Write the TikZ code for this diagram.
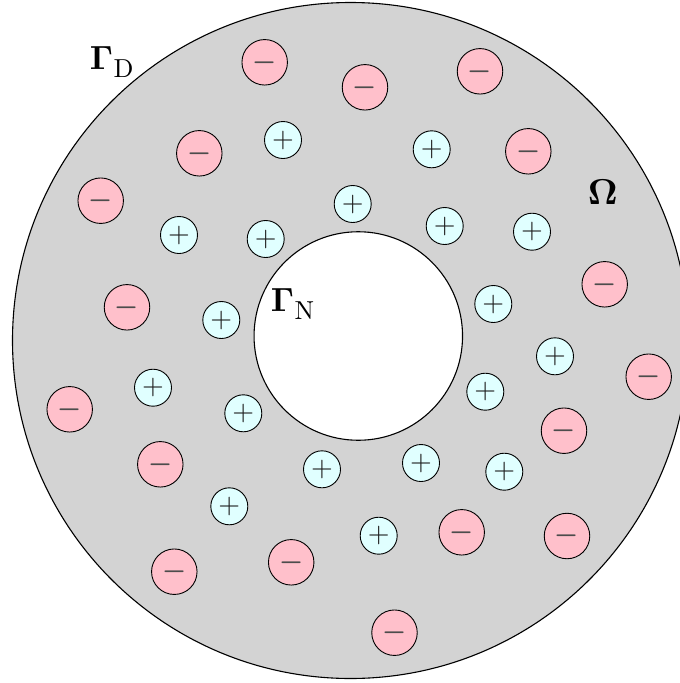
\documentclass[tikz,border=0pt]{standalone}
\usepackage{amsmath}
\usepackage{graphicx}
\definecolor{bgfill}{HTML}{D3D3D3}
\definecolor{negfill}{HTML}{FFC0CB}
\definecolor{posfill}{HTML}{E0FFFF}
\newcommand{\negsign}{\scalebox{3.1}[4.3]{$-$}}
\newcommand{\possign}{\scalebox{2.8}{$+$}}
\newcommand{\bigGamma}{\scalebox{3.35}{$\mathbf{\Gamma}$}}
\begin{document}
\begin{tikzpicture}[x=1pt,y=-1pt,
  anion/.style={circle, draw=black, fill=negfill, minimum size=45.5pt, inner sep=0pt, line width=0.9pt, text=black!70},
  cation/.style={circle, draw=black, fill=posfill, minimum size=37pt, inner sep=0pt, line width=0.9pt, text=black!88},
  region/.style={circle, draw=black, inner sep=0pt, line width=1.1pt},
  lbl/.style={inner sep=0pt, anchor=base west}]
\useasboundingbox (0,0) rectangle (680,683);
\clip (0,0) rectangle (680,683);
\fill[white] (0,0) rectangle (680,683);
\node[region, fill=bgfill, minimum size=676pt] (outer) at (350.5,340.5) {};
\node[region, fill=white, minimum size=208.5pt] (inner) at (358.3,336) {};
% negative ions
\node[anion] (n1) at (264.7,62.3) {\negsign};
\node[anion] (n2) at (365,87.3) {\negsign};
\node[anion] (n3) at (480,71.3) {\negsign};
\node[anion] (n4) at (199.3,153.3) {\negsign};
\node[anion] (n5) at (528.3,151.3) {\negsign};
\node[anion] (n6) at (100.7,200.7) {\negsign};
\node[anion] (n7) at (604.7,284.3) {\negsign};
\node[anion] (n8) at (127,307.3) {\negsign};
\node[anion] (n9) at (648.7,376.7) {\negsign};
\node[anion] (n10) at (69.7,409.3) {\negsign};
\node[anion] (n11) at (564,430.7) {\negsign};
\node[anion] (n12) at (160.3,464.3) {\negsign};
\node[anion] (n13) at (461.7,532.3) {\negsign};
\node[anion] (n14) at (567,536) {\negsign};
\node[anion] (n15) at (291.2,562.3) {\negsign};
\node[anion] (n16) at (174.3,571.7) {\negsign};
\node[anion] (n17) at (394.5,632.7) {\negsign};
% positive ions
\node[cation] (p1) at (283,140) {\possign};
\node[cation] (p2) at (431.7,149.3) {\possign};
\node[cation] (p3) at (352.7,204) {\possign};
\node[cation] (p4) at (444.7,226) {\possign};
\node[cation] (p5) at (532,231.7) {\possign};
\node[cation] (p6) at (179,235) {\possign};
\node[cation] (p7) at (265.7,239) {\possign};
\node[cation] (p8) at (493.3,304) {\possign};
\node[cation] (p9) at (221.3,320) {\possign};
\node[cation] (p10) at (555,356.3) {\possign};
\node[cation] (p11) at (153,387.7) {\possign};
\node[cation] (p12) at (485.3,391.7) {\possign};
\node[cation] (p13) at (243.3,413.3) {\possign};
\node[cation] (p14) at (421,463) {\possign};
\node[cation] (p15) at (322,469.3) {\possign};
\node[cation] (p16) at (504.3,471.7) {\possign};
\node[cation] (p17) at (229.3,506.3) {\possign};
\node[cation] (p18) at (378.7,535.7) {\possign};
% labels
\node[lbl] (gd) at (89.7,69) {\bigGamma\hspace{0.5pt}\raisebox{-8pt}{\scalebox{2.6}{D}}};
\node[lbl] (gn) at (270.7,311) {\bigGamma\hspace{0.5pt}\raisebox{-8pt}{\scalebox{2.6}{N}}};
\node[inner sep=0pt] (om) at (602.7,192.3) {\scalebox{3.6}{$\mathbf{\Omega}$}};
\end{tikzpicture}
\end{document}
